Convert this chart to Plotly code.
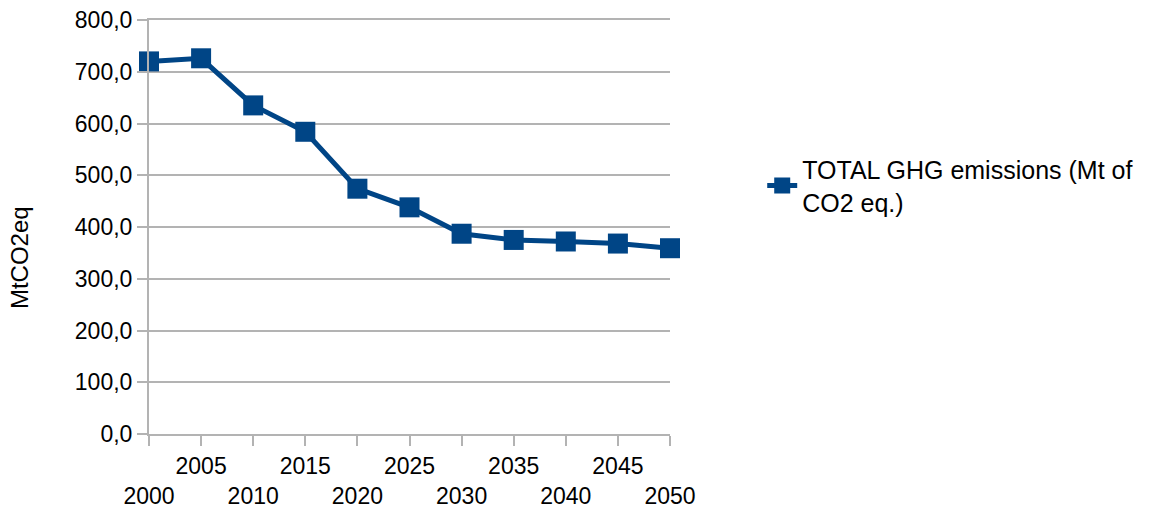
import plotly.graph_objects as go

# values
years = [2000, 2005, 2010, 2015, 2020, 2025, 2030, 2035, 2040, 2045, 2050]
ghg = [720, 726, 635, 584, 474, 438, 387, 375, 372, 368, 359]
y_ticks = [0, 100, 200, 300, 400, 500, 600, 700, 800]
series_name = "TOTAL GHG emissions (Mt of<br>CO2 eq.)"

# staggered category labels: odd ones on the top row, even ones on the bottom row
x_labels = [("<br>" + str(y)) if i % 2 == 0 else str(y) for i, y in enumerate(years)]
y_labels = [f"{v:.1f}".replace(".", ",") for v in y_ticks]

blue = "#004586"
grid = "#b3b3b3"
family = "Liberation Sans, Arial, sans-serif"
font = dict(family=family, size=23, color="#000000")

fig = go.Figure()
fig.add_trace(go.Scatter(x=years, y=ghg, mode="lines+markers", name=series_name,
                         line=dict(color=blue, width=5), cliponaxis=False,
                         marker=dict(symbol="square", size=20, color=blue)))

fig.update_layout(
    width=1160, height=509,
    margin=dict(l=149, r=490, t=20, b=75),
    paper_bgcolor="white", plot_bgcolor="white",
    font=font,
    showlegend=True,
    legend=dict(x=1.177, y=0.60, xanchor="left", yanchor="middle",
                font=dict(family=family, size=25, color="#000000"),
                bgcolor="rgba(0,0,0,0)"),
)

fig.update_xaxes(range=[2000, 2050], tickvals=years, ticktext=x_labels,
                 tickangle=0,
                 showgrid=False, zeroline=False, automargin=False,
                 showline=True, linecolor=grid, linewidth=2, mirror=True,
                 ticks="outside", ticklen=10, tickcolor=grid, tickwidth=2,
                 tickfont=font)
fig.update_yaxes(range=[0, 800], tickvals=y_ticks, ticktext=y_labels,
                 showgrid=True, gridcolor=grid, gridwidth=2, zeroline=False,
                 showline=True, linecolor=grid, linewidth=2, automargin=False,
                 ticks="outside", ticklen=10, tickcolor=grid, tickwidth=2,
                 tickfont=font)

fig.add_annotation(text="MtCO2eq", xref="paper", yref="paper",
                   x=-0.2495, y=0.425, xanchor="center", yanchor="middle",
                   textangle=-90, showarrow=False,
                   font=dict(family=family, size=24, color="#000000"))

# drop the browser's default page margin so the figure sits at the window's corner
fig.write_html("out.html", config={"displayModeBar": False},
               post_script="document.body.style.margin='0';")
